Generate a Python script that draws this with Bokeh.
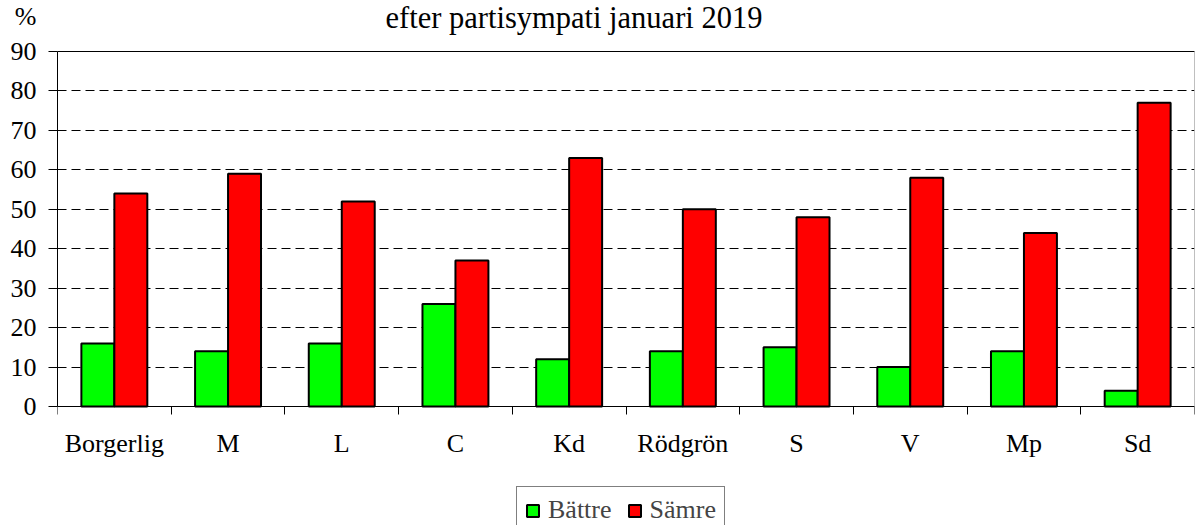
from bokeh.plotting import figure
from bokeh.models import (ColumnDataSource, FixedTicker, Label, Legend, LegendItem, LinearAxis,
                          Range1d, Span)
from bokeh.transform import dodge
from bokeh.embed import file_html
from bokeh.resources import INLINE

categories = ["Borgerlig", "M", "L", "C", "Kd", "Rödgrön", "S", "V", "Mp", "Sd"]
battre = [16, 14, 16, 26, 12, 14, 15, 10, 14, 4]
samre = [54, 59, 52, 37, 63, 50, 48, 58, 44, 77]
title_text = "efter partisympati januari 2019"
unit_text = "%"
y_ticks = [0, 10, 20, 30, 40, 50, 60, 70, 80, 90]
y_max = 90

FONT = "Liberation Serif"
n = len(categories)
src = ColumnDataSource(dict(x=[i + 0.5 for i in range(n)], b=battre, s=samre))

# The frame spans the whole canvas height; the value scale 0..90 occupies 355 px,
# with 51 px above it (title) and 119 px below it (category labels and legend).
plot_px, top_px, bottom_px = 355, 51, 119
ppu = plot_px / y_max
y_end = y_max + top_px / ppu
y_start = -bottom_px / ppu

p = figure(width=1197, height=525, output_backend="svg", toolbar_location=None,
           x_range=Range1d(0, n), y_range=Range1d(y_start, y_end),
           min_border_left=57, min_border_right=3, min_border_top=0, min_border_bottom=0)
p.background_fill_color = "white"
p.border_fill_color = "white"
p.outline_line_color = None

bw = 0.29
rb = p.vbar(x=dodge("x", -bw / 2, range=p.x_range), top="b", width=bw, source=src,
            fill_color="#00FF00", line_color="black", line_width=2)
rs = p.vbar(x=dodge("x", bw / 2, range=p.x_range), top="s", width=bw, source=src,
            fill_color="#FF0000", line_color="black", line_width=2)

# category axis at value 0: labels at centres, ticks at boundaries
xa = p.xaxis[0]
xa.fixed_location = 0
xa.ticker = FixedTicker(ticks=[i + 0.5 for i in range(n)], minor_ticks=list(range(n + 1)))
xa.major_label_overrides = {i + 0.5: c for i, c in enumerate(categories)}
xa.major_tick_out = 0
xa.major_tick_in = 0
xa.minor_tick_out = 8
xa.minor_tick_in = 0
xa.minor_tick_line_color = "black"
xa.axis_line_color = "black"
xa.major_label_text_font = FONT
xa.major_label_text_font_size = "26px"
xa.major_label_text_color = "black"
xa.major_label_standoff = 14

ya = p.yaxis[0]
ya.bounds = (0, y_max)
ya.ticker = FixedTicker(ticks=y_ticks)
ya.major_label_overrides = {y_max: unit_text + "\n" + str(y_max) + "\n\u00a0"}
ya.minor_tick_line_color = None
ya.major_tick_out = 9
ya.major_tick_in = 0
ya.major_tick_line_color = "black"
ya.axis_line_color = "black"
ya.major_label_text_font = FONT
ya.major_label_text_font_size = "26px"
ya.major_label_text_color = "black"
ya.major_label_standoff = 12

# right border of the plot area
ra = LinearAxis(bounds=(0, y_max), fixed_location=n, ticker=FixedTicker(ticks=[]),
                major_tick_out=0, minor_tick_out=0, major_label_text_font_size="0px",
                axis_line_color="#808080", axis_line_width=1)
p.add_layout(ra, "right")
# top border
p.add_layout(Span(location=y_max, dimension="width", line_color="black", line_width=1))

p.xgrid.grid_line_color = None
p.ygrid.ticker = FixedTicker(ticks=y_ticks)
p.ygrid.grid_line_color = "black"
p.ygrid.grid_line_dash = "9 5"
p.ygrid.grid_line_width = 1

# title
p.add_layout(Label(x=2.885, y=y_max + 34 / ppu, text=title_text, text_font=FONT,
                   text_font_size="30.5px", text_align="left", text_baseline="alphabetic",
                   text_color="black"))

legend = Legend(items=[LegendItem(label="Bättre", renderers=[rb]),
                       LegendItem(label="Sämre", renderers=[rs])],
                orientation="horizontal", location=(459, -9),
                label_text_font=FONT, label_text_font_size="26px",
                label_height=25, glyph_width=15, glyph_height=15,
                padding=8, spacing=15, label_standoff=8, margin=0,
                border_line_color="black", border_line_width=1,
                background_fill_color="white", background_fill_alpha=1)
p.add_layout(legend, "center")

open("out.html", "w").write(file_html(p, INLINE))
